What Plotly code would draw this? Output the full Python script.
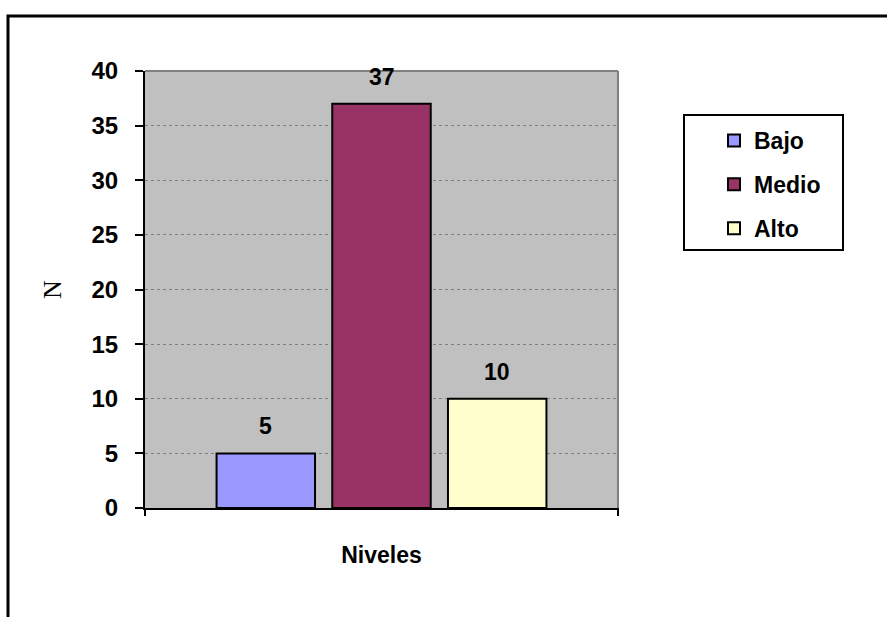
import plotly.graph_objects as go

# Data
niveles = ["Bajo", "Medio", "Alto"]
valores = [5, 37, 10]
colores = ["#9999FF", "#993366", "#FFFFCC"]
y_ticks = [0, 5, 10, 15, 20, 25, 30, 35, 40]

W, H = 887, 617
# plot area in pixels
PL, PR, PT, PB = 145, 618, 71, 508
pw, ph = PR - PL, PB - PT


def px_x(x):
    return (x - PL) / pw


def px_y(y):
    return (PB - y) / ph


fig = go.Figure()
for nombre, val, col in zip(niveles, valores, colores):
    fig.add_trace(go.Bar(
        x=[nombre], y=[val], name=nombre, width=0.851,
        marker=dict(color=col, line=dict(color="black", width=2)),
        legendgroup=nombre,
    ))

# value labels above each bar
for nombre, val in zip(niveles, valores):
    fig.add_annotation(
        x=nombre, y=val, text=f"<b>{val}</b>", showarrow=False,
        yanchor="bottom", yshift=12,
        font=dict(family="Liberation Sans, Arial", size=23, color="black"),
    )

shapes = [
    # outer frame (top and left edges)
    dict(type="path", xref="paper", yref="paper",
         path=f"M {px_x(8)},{px_y(H + 5)} L {px_x(8)},{px_y(16)} L {px_x(W + 5)},{px_y(16)}",
         line=dict(color="black", width=3)),
    # plot area border (top and right)
    dict(type="line", xref="paper", yref="paper", x0=0, x1=1, y0=1, y1=1,
         line=dict(color="#808080", width=2), layer="above"),
    dict(type="line", xref="paper", yref="paper", x0=1, x1=1, y0=0, y1=1,
         line=dict(color="#808080", width=2), layer="above"),
    # category axis end ticks
    dict(type="line", xref="paper", yref="paper", x0=0, x1=0, y0=0, y1=px_y(PB + 8),
         line=dict(color="black", width=2)),
    dict(type="line", xref="paper", yref="paper", x0=1, x1=1, y0=0, y1=px_y(PB + 8),
         line=dict(color="black", width=2)),
    # legend frame
    dict(type="rect", xref="paper", yref="paper",
         x0=px_x(684), x1=px_x(843), y0=px_y(250), y1=px_y(115),
         line=dict(color="black", width=2), fillcolor="white"),
]

fig.update_layout(
    width=W, height=H,
    margin=dict(l=PL, r=W - PR, t=PT, b=H - PB),
    paper_bgcolor="white",
    plot_bgcolor="#C0C0C0",
    barmode="overlay",
    shapes=shapes,
    showlegend=True,
    legend=dict(
        x=px_x(714), y=px_y(119), xanchor="left", yanchor="top",
        bgcolor="rgba(0,0,0,0)", borderwidth=0,
        traceorder="grouped", tracegroupgap=11,
        font=dict(family="Liberation Sans, Arial", size=23, color="black", weight="bold"),
    ),
    xaxis=dict(
        type="category", range=[-1.044, 3.044],
        showticklabels=False, ticks="", showgrid=False,
        showline=True, linecolor="black", linewidth=2,
        title=dict(text="<b>Niveles</b>", standoff=38,
                   font=dict(family="Liberation Sans, Arial", size=23, color="black")),
    ),
    yaxis=dict(
        range=[0, 40], tickvals=y_ticks,
        ticks="outside", ticklen=8, tickwidth=2, tickcolor="black",
        ticklabelstandoff=12,
        tickfont=dict(family="Liberation Sans, Arial", size=24, color="black", weight="bold"),
        showline=True, linecolor="black", linewidth=2,
        showgrid=True, gridcolor="#808080", gridwidth=1, griddash="dot",
        zeroline=False,
        title=dict(text="N", standoff=22,
                   font=dict(family="Liberation Serif, Times New Roman", size=26, color="black")),
    ),
)

fig.write_html("out.html")
